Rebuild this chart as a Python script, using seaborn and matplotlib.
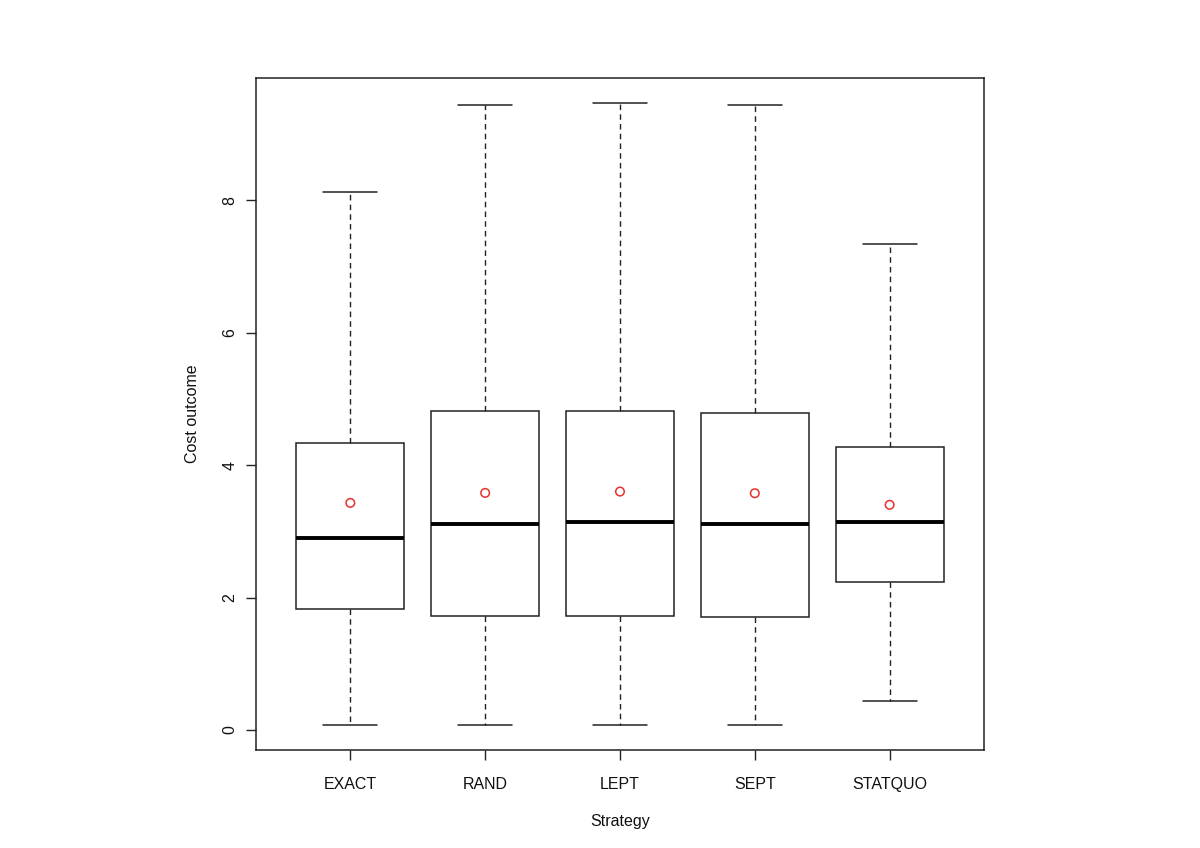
import numpy as np
import pandas as pd
import matplotlib
matplotlib.use("Agg")
import matplotlib.pyplot as plt
import seaborn as sns

# values
strategies = ["EXACT", "RAND", "LEPT", "SEPT", "STATQUO"]
lower_whisker = [0.075, 0.080, 0.080, 0.080, 0.437]
first_quartile = [1.824, 1.721, 1.721, 1.710, 2.232]
medians = [2.905, 3.116, 3.138, 3.110, 3.138]
third_quartile = [4.339, 4.811, 4.822, 4.791, 4.278]
upper_whisker = [8.116, 9.437, 9.467, 9.437, 7.336]
means = [3.429, 3.580, 3.600, 3.575, 3.400]
y_ticks = [0, 2, 4, 6, 8]


def build_frame():
    # five summary values per strategy; with whis=(0, 100) the boxplot
    # reproduces exactly these quartiles and whisker ends
    rows = []
    for i, name in enumerate(strategies):
        for v in (lower_whisker[i], first_quartile[i], medians[i],
                  third_quartile[i], upper_whisker[i]):
            rows.append({"strategy": name, "cost": v})
    return pd.DataFrame(rows)


def create_visualization(data, output_image_path):
    sns.set_style("ticks")
    plt.rcParams["font.family"] = ["Liberation Sans", "DejaVu Sans"]

    fig = plt.figure(figsize=(12, 8.48), dpi=100)
    ax = fig.add_axes([0.2133, 0.1156, 0.6067, 0.7924])

    sns.boxplot(
        data=data, x="strategy", y="cost", order=strategies,
        whis=(0, 100), width=0.8, color="white", linecolor="#222222",
        linewidth=1.1, showfliers=False, ax=ax,
        whiskerprops=dict(linestyle=(0, (4, 3)), linewidth=1.0),
        medianprops=dict(color="black", linewidth=2.8),
        capprops=dict(linewidth=1.1),
    )
    sns.scatterplot(
        x=strategies, y=means, marker="o", s=38, facecolor="none",
        edgecolor="#e8302c", linewidth=1.1, ax=ax, zorder=5,
    )

    lo, hi = min(lower_whisker), max(upper_whisker)
    pad = 0.04 * (hi - lo)
    ax.set_ylim(lo - pad, hi + pad)
    ax.set_xlim(-0.7, len(strategies) - 0.3)
    ax.set_yticks(y_ticks)
    ax.set_yticklabels([str(t) for t in y_ticks], rotation=90, va="center")

    for side in ["left", "right", "top", "bottom"]:
        ax.spines[side].set_visible(True)
        ax.spines[side].set_color("#222222")
        ax.spines[side].set_linewidth(1.1)

    ax.tick_params(axis="both", length=7.5, width=1.0, color="#222222",
                   labelsize=11.5, labelcolor="#111111")
    ax.tick_params(axis="x", pad=12)
    ax.tick_params(axis="y", pad=6)

    ax.set_xlabel("Strategy", fontsize=11.5, labelpad=16, color="#111111")
    ax.set_ylabel("Cost outcome", fontsize=11.5, labelpad=16, color="#111111")

    fig.savefig(output_image_path, dpi=100, facecolor="white")


def main():
    data = build_frame()
    create_visualization(data, "out.png")


if __name__ == "__main__":
    main()
